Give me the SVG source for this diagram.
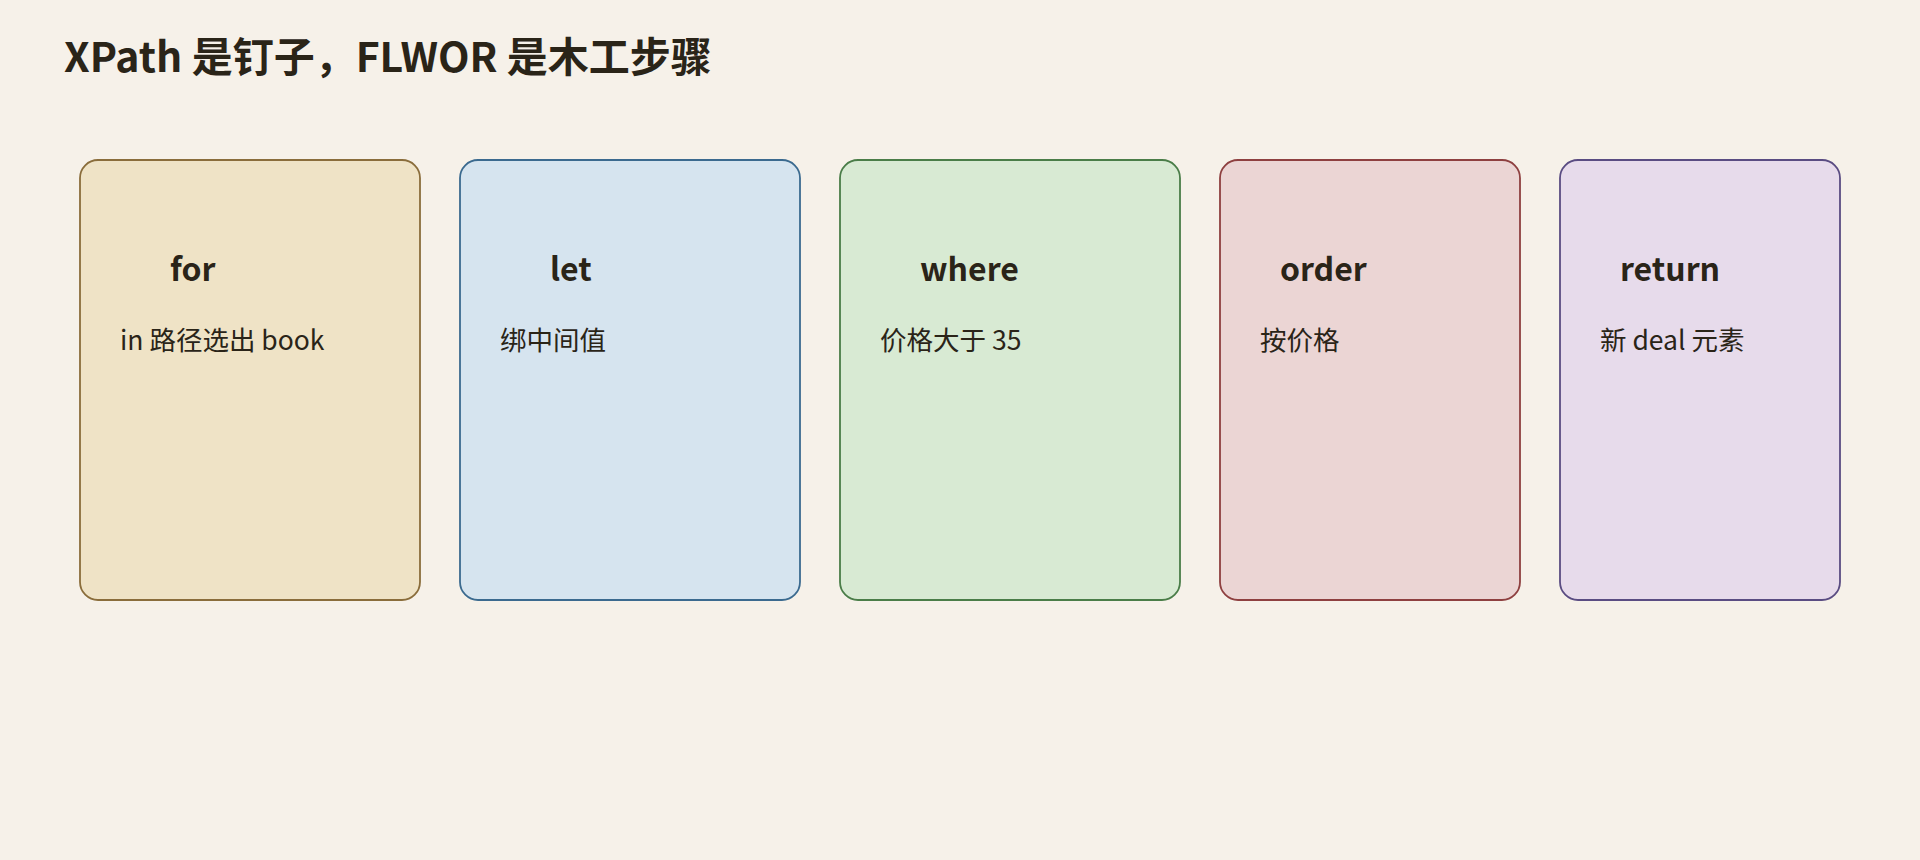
<svg xmlns="http://www.w3.org/2000/svg" width="1920" height="860" viewBox="0 0 1920 860">
<style>
.bg{fill:#f6f1e9}
.card{stroke-width:1.8}
.title{font-family:"Noto Sans CJK SC","Noto Sans",sans-serif;font-weight:700;font-size:41px;fill:#2a2418}
.head{font-family:"Noto Sans CJK SC","Noto Sans",sans-serif;font-weight:700;font-size:32px;fill:#2a2418}
.sub{font-family:"Noto Sans CJK SC","Noto Sans",sans-serif;font-size:26.5px;fill:#2a2418}
</style>
<rect class="bg" x="0" y="0" width="1920" height="860"/>
<text class="title" x="64" y="72">XPath 是钉子，FLWOR 是木工步骤</text>
<g id="node-for">
<rect class="card" x="80" y="160" width="340" height="440" rx="18" fill="#efe3c6" stroke="#8a6d3b"/>
<text class="head" x="170" y="281">for</text>
<text class="sub" x="120" y="350">in 路径选出 book</text>
</g>
<g id="node-let">
<rect class="card" x="460" y="160" width="340" height="440" rx="18" fill="#d6e4ef" stroke="#3b6a8f"/>
<text class="head" x="550" y="281">let</text>
<text class="sub" x="500" y="350">绑中间值</text>
</g>
<g id="node-where">
<rect class="card" x="840" y="160" width="340" height="440" rx="18" fill="#d8ead3" stroke="#4a7d48"/>
<text class="head" x="920" y="281">where</text>
<text class="sub" x="880" y="350">价格大于 35</text>
</g>
<g id="node-order">
<rect class="card" x="1220" y="160" width="300" height="440" rx="18" fill="#ebd5d4" stroke="#8e4040"/>
<text class="head" x="1280" y="281">order</text>
<text class="sub" x="1260" y="350">按价格</text>
</g>
<g id="node-return">
<rect class="card" x="1560" y="160" width="280" height="440" rx="18" fill="#e7dbeb" stroke="#5a4c82"/>
<text class="head" x="1620" y="281">return</text>
<text class="sub" x="1600" y="350">新 deal 元素</text>
</g>
<g id="connectors"></g>
</svg>
